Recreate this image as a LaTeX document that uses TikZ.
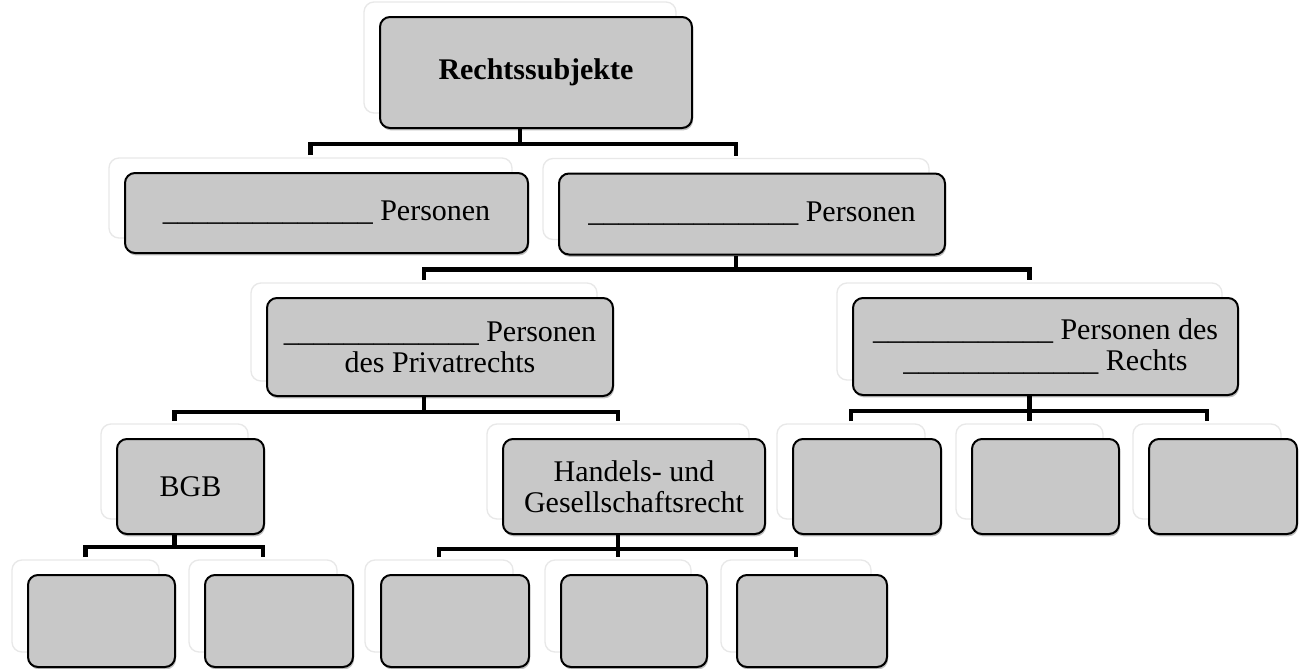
\documentclass[tikz,border=0pt]{standalone}
\usepackage{fontspec}
\setmainfont{Liberation Serif}
\usetikzlibrary{shadows,backgrounds,calc}
\definecolor{boxgray}{RGB}{200,200,200}
\newcommand\myblank[1]{\foreach \i in {1,...,#1}{\_}}
\begin{document}
\begin{tikzpicture}[x=0.75pt,y=-0.75pt,
  box/.style={draw=black, line width=1.5pt, rounded corners=7.5pt, fill=boxgray,
    align=center, inner sep=0pt, font=\fontsize{22.5}{23}\selectfont,
    general shadow={shadow xshift=-12pt, shadow yshift=11.25pt, fill=white, draw=black!9, line width=1pt},
    general shadow={shadow xshift=0.8pt, shadow yshift=-1.8pt, fill=black, opacity=0.25}},
  sz/.style 2 args={minimum width=#1*0.75pt, minimum height=#2*0.75pt},
  conn/.style={line width=3.2pt, line join=miter}]
\useasboundingbox (0,0) rectangle (1306,668);

\node[box, sz={312}{111}] (top) at (536,72.5) {\textbf{Rechtssubjekte}};
\node[box, sz={403}{80}] (p1) at (326.5,213) {\myblank{14} Personen};
\node[box, sz={386}{81}] (p2) at (752,214) {\myblank{14} Personen};
\node[box, sz={346}{98}] (pr) at (440,347) {\myblank{13} Personen\\des Privatrechts};
\node[box, sz={385}{97}] (pu) at (1045.5,346.5) {\myblank{12} Personen des\\\myblank{13} Rechts};
\node[box, sz={147}{95}] (bgb) at (190.5,486.5) {BGB};
\node[box, sz={262}{95}] (hg) at (634,486.5) {Handels- und\\Gesellschaftsrecht};
\node[box, sz={148}{95}] (r1) at (867,486.5) {};
\node[box, sz={147}{95}] (r2) at (1045.5,486.5) {};
\node[box, sz={148}{95}] (r3) at (1223,486.5) {};
\node[box, sz={147}{92}] (b1) at (101.5,621) {};
\node[box, sz={148}{92}] (b2) at (279,621) {};
\node[box, sz={148}{92}] (h1) at (455,621) {};
\node[box, sz={146}{92}] (h2) at (634,621) {};
\node[box, sz={150}{92}] (h3) at (812,621) {};

\begin{scope}[on background layer]
\fill[white] (0,0) rectangle (1306,668);
% Rechtssubjekte
\draw[conn] ([xshift=-12pt,yshift=12.75pt]p1.north) |- ([yshift=-11.25pt]top.south) -| ([xshift=-12pt,yshift=12.75pt]p2.north);
\draw[conn] ([xshift=-12pt]top.south) -- ([xshift=-12pt,yshift=-11.25pt]top.south);
% p2
\draw[conn] ([xshift=-12pt,yshift=12.75pt]pr.north) |- ([yshift=-10.5pt]p2.south) -| ([xshift=-12pt,yshift=12.75pt]pu.north);
\draw[conn] ([xshift=-12pt]p2.south) -- ([xshift=-12pt,yshift=-10.5pt]p2.south);
% pr
\draw[conn] ([xshift=-12pt,yshift=12.75pt]bgb.north) |- ([yshift=-11.25pt]pr.south) -| ([xshift=-12pt,yshift=12.75pt]hg.north);
\draw[conn] ([xshift=-12pt]pr.south) -- ([xshift=-12pt,yshift=-11.25pt]pr.south);
% pu
\draw[conn] ([xshift=-12pt,yshift=12.75pt]r1.north) |- ([yshift=-11.25pt]pu.south) -| ([xshift=-12pt,yshift=12.75pt]r3.north);
\draw[conn] ([xshift=-12pt]pu.south) -- ([xshift=-12pt,yshift=12.75pt]r2.north);
% bgb
\draw[conn] ([xshift=-12pt,yshift=12.75pt]b1.north) |- ([yshift=-9pt]bgb.south) -| ([xshift=-12pt,yshift=12.75pt]b2.north);
\draw[conn] ([xshift=-12pt]bgb.south) -- ([xshift=-12pt,yshift=-9pt]bgb.south);
% hg
\draw[conn] ([xshift=-12pt,yshift=12.75pt]h1.north) |- ([yshift=-10.5pt]hg.south) -| ([xshift=-12pt,yshift=12.75pt]h3.north);
\draw[conn] ([xshift=-12pt]hg.south) -- ([xshift=-12pt,yshift=12.75pt]h2.north);
\end{scope}
\end{tikzpicture}
\end{document}
